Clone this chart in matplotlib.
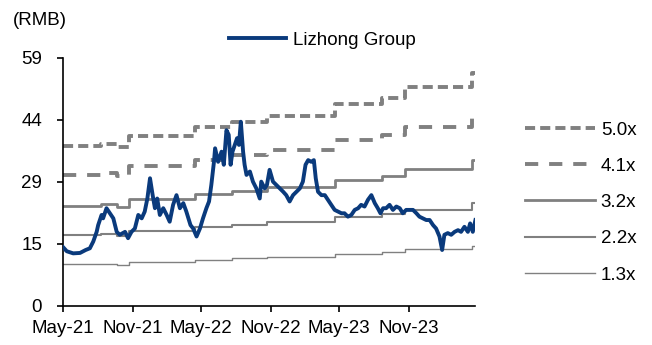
import matplotlib
matplotlib.use("Agg")
import matplotlib.pyplot as plt
import matplotlib.dates as mdates
import numpy as np
import pandas as pd

plt.rcParams['font.family'] = ['Liberation Sans', 'DejaVu Sans']

# share price (RMB): days since 2021-05-01 and price
price_day = [1, 10, 27, 45, 60, 71, 80, 89, 93, 102, 106, 115, 124, 133, 142, 150, 164, 172,
             181, 190, 199, 208, 216, 223, 230, 237, 243, 249, 256, 265, 274, 282, 291, 300,
             309, 318, 326, 337, 344, 353, 362, 370, 379, 386, 392, 399, 402, 410, 419, 425,
             432, 438, 443, 448, 454, 460, 465, 470, 476, 480, 485, 494, 502, 511, 520, 524,
             533, 539, 546, 555, 564, 573, 582, 590, 599, 608, 617, 626, 634, 641, 648, 656,
             663, 668, 674, 683, 692, 700, 709, 718, 727, 736, 744, 753, 762, 771, 780, 788,
             797, 806, 815, 824, 832, 839, 846, 854, 863, 872, 881, 890, 898, 907, 916, 925,
             934, 942, 951, 960, 969, 978, 986, 995, 1002, 1008, 1017, 1026, 1035, 1044, 1052,
             1061, 1070, 1076, 1083, 1090]
price = [13.8, 12.9, 12.4, 12.5, 13.2, 13.6, 15.2, 17.5, 19.1, 21.5, 20.7, 23.1, 21.9, 20.7,
         17.5, 16.8, 17.5, 16.0, 17.5, 18.3, 21.5, 20.7, 22.3, 25.4, 30.2, 26.2, 23.1, 25.4,
         21.5, 23.1, 21.5, 19.9, 23.9, 26.2, 23.1, 24.3, 22.3, 19.1, 18.3, 16.4, 18.3, 20.7,
         23.1, 24.7, 28.6, 34.1, 37.3, 34.1, 36.5, 33.4, 41.6, 40.5, 33.4, 36.5, 38.1, 39.7,
         38.1, 43.6, 36.5, 33.4, 31.0, 31.8, 29.4, 27.8, 25.4, 29.4, 27.8, 28.6, 32.2, 29.4,
         28.6, 27.8, 27.0, 26.2, 24.7, 26.2, 27.0, 27.8, 29.4, 33.4, 34.5, 34.1, 34.5, 30.2,
         27.0, 26.2, 26.2, 25.1, 23.9, 22.7, 22.3, 21.9, 21.9, 21.1, 21.5, 22.7, 23.1, 23.9,
         23.5, 25.1, 26.2, 24.3, 23.1, 21.9, 23.1, 23.1, 23.9, 22.7, 23.5, 23.1, 21.9, 22.7,
         22.7, 22.7, 21.9, 21.1, 20.7, 20.3, 20.3, 19.1, 18.3, 16.4, 13.2, 16.8, 17.2, 16.8,
         17.5, 17.9, 17.5, 18.7, 17.5, 19.5, 17.5, 20.3]

# book value per share steps behind the P/B bands
bvps_dates = ['2021-05-01', '2021-08-09', '2021-09-21', '2021-10-22', '2022-04-15',
              '2022-07-21', '2022-10-22', '2023-04-19', '2023-08-21', '2023-10-21',
              '2024-04-15', '2024-04-25']
bvps = [7.58, 7.68, 7.50, 8.05, 8.45, 8.70, 9.00, 9.55, 9.85, 10.35, 11.05, 11.05]

band_mult = [5.0, 4.1, 3.13, 2.2, 1.29]
band_labels = ['5.0x', '4.1x', '3.2x', '2.2x', '1.3x']

y_ticks = [0, 14.7, 29.4, 44.1, 58.8]
y_tick_labels = ['0', '15', '29', '44', '59']

start = pd.Timestamp('2021-05-01')
pdates = start + pd.to_timedelta(price_day, unit='D')
bdates = pd.to_datetime(bvps_dates)

grey = '#808080'
navy = '#0a3a7c'
band_styles = [
    dict(lw=2.8, dashes=(2.6, 1.3)),
    dict(lw=2.8, dashes=(3.4, 2.8)),
    dict(lw=2.0),
    dict(lw=1.5),
    dict(lw=1.0),
]

fig = plt.figure(figsize=(6.52, 3.45), dpi=100)
ax = fig.add_axes([0.0966, 0.114, 0.632, 0.719])

band_handles = []
for m, lab, st in zip(band_mult, band_labels, band_styles):
    h, = ax.plot(bdates, np.array(bvps) * m, drawstyle='steps-post', color=grey,
                 label=lab, zorder=2, **st)
    band_handles.append(h)

pl, = ax.plot(pdates, price, color=navy, lw=2.8, label='Lizhong Group', zorder=3)

ax.set_xlim(start, pd.Timestamp('2024-04-24'))
ax.set_ylim(0, 58.8)
ax.set_yticks(y_ticks)
ax.set_yticklabels(y_tick_labels)
ax.xaxis.set_major_locator(mdates.MonthLocator(bymonth=[5, 11]))
ax.xaxis.set_major_formatter(mdates.DateFormatter('%b-%y'))

for s in ['top', 'right']:
    ax.spines[s].set_visible(False)
ax.spines['left'].set_linewidth(1.2)
ax.spines['bottom'].set_linewidth(1.2)
ax.tick_params(axis='y', length=4, width=1.2, pad=11, labelsize=13.5)
ax.tick_params(axis='x', length=4, width=1.2, pad=6, labelsize=13.5)

fig.text(0.02, 0.94, '(RMB)', fontsize=13.5, va='center')

fig.legend(handles=[pl], loc='center left', bbox_to_anchor=(0.326, 0.884),
           frameon=False, fontsize=13.5, handlelength=3.0, handletextpad=0.4)
fig.legend(handles=band_handles, loc='upper left', bbox_to_anchor=(0.779, 0.697),
           frameon=False, fontsize=13.5, handlelength=3.75, handletextpad=0.3,
           labelspacing=1.02)

fig.savefig('out.png', dpi=100)
